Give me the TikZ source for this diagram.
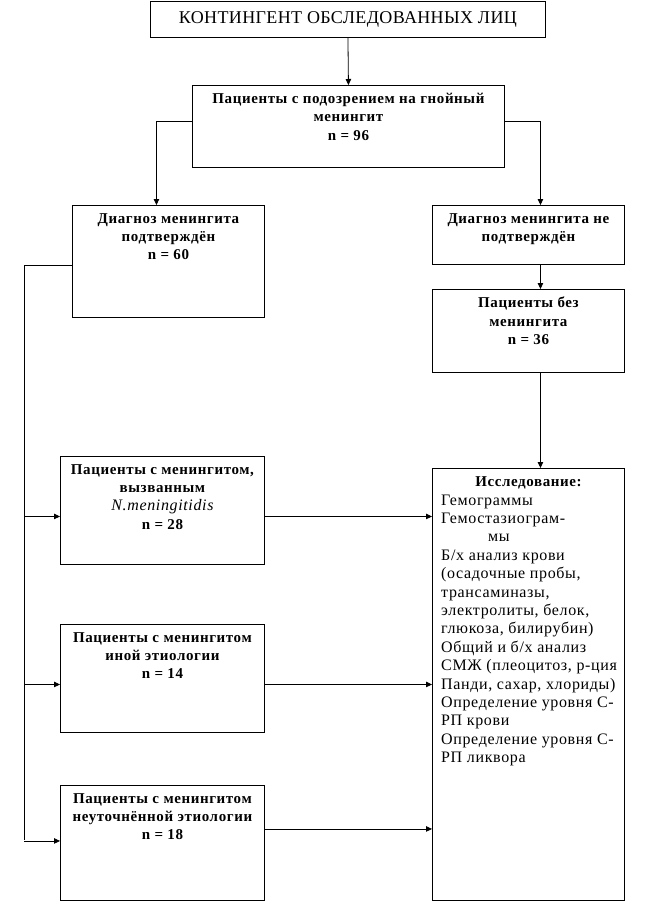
\documentclass[tikz,border=0pt]{standalone}
\usepackage{fontspec}
\setmainfont{Liberation Serif}
\usetikzlibrary{arrows.meta,calc}
\begin{document}
\begin{tikzpicture}[x=1pt,y=-1pt,
  box/.style={draw,line width=0.9pt,rectangle,inner sep=0pt,anchor=north west},
  txt/.style={anchor=north,align=center,inner sep=0pt,font=\fontsize{15}{18.4}\selectfont\bfseries\addfontfeatures{LetterSpace=4}},
  arr/.style={line width=0.8pt,-{Triangle[length=6pt,width=5.5pt]}},
  ln/.style={line width=0.8pt}]
\useasboundingbox (0,0) rectangle (649,907);
% boxes
\node[box,minimum width=395pt,minimum height=36pt] (top) at (150,1) {};
\node[box,minimum width=312pt,minimum height=82pt] (susp) at (192,85) {};
\node[box,minimum width=192pt,minimum height=112pt] (conf) at (72,205) {};
\node[box,minimum width=192pt,minimum height=59pt] (notconf) at (432,205) {};
\node[box,minimum width=192pt,minimum height=83pt] (nomen) at (432,289) {};
\node[box,minimum width=192pt,minimum height=432pt] (study) at (432,468) {};
\node[box,minimum width=204pt,minimum height=108pt] (nm) at (60,456) {};
\node[box,minimum width=204pt,minimum height=108pt] (other) at (60,624) {};
\node[box,minimum width=204pt,minimum height=115pt] (unspec) at (60,785) {};
% texts
\node[anchor=center,inner sep=0pt,font=\fontsize{18}{20}\selectfont\addfontfeatures{LetterSpace=2}] (toptxt) at (top.center) {КОНТИНГЕНТ ОБСЛЕДОВАННЫХ ЛИЦ};
\node[txt] (susptxt) at ([yshift=-8pt]susp.north) {Пациенты с подозрением на гнойный\\менингит\\n = 96};
\node[txt] (conftxt) at ([yshift=-8pt]conf.north) {Диагноз менингита\\подтверждён\\n = 60};
\node[txt] (notconftxt) at ([yshift=-8pt]notconf.north) {Диагноз менингита не\\подтверждён};
\node[txt] (nomentxt) at ([yshift=-8pt]nomen.north) {Пациенты без\\менингита\\n = 36};
\node[txt] (nmtxt) at ([yshift=-8pt]nm.north) {Пациенты с менингитом,\\вызванным\\{\fontsize{16}{18.4}\selectfont\mdseries\itshape N.meningitidis}\\n = 28};
\node[txt] (othertxt) at ([yshift=-8pt]other.north) {Пациенты с менингитом\\иной этиологии\\n = 14};
\node[txt] (unspectxt) at ([yshift=-8pt]unspec.north) {Пациенты с менингитом\\неуточнённой этиологии\\n = 18};
\node[txt] (studyhead) at ([yshift=-8pt]study.north) {Исследование:};
\node[anchor=north west,align=left,inner sep=0pt,font=\fontsize{16}{18.4}\selectfont\addfontfeatures{LetterSpace=4}] (studytxt) at ([yshift=-18.4pt]studyhead.north -| 441,0) {Гемограммы\\Гемостазиограм-\\\hspace*{47pt}мы\\Б/х анализ крови\\(осадочные пробы,\\трансаминазы,\\электролиты, белок,\\глюкоза, билирубин)\\Общий и б/х анализ\\СМЖ (плеоцитоз, р-ция\\Панди, сахар, хлориды)\\Определение уровня С-\\РП крови\\Определение уровня С-\\РП ликвора};
% connectors
\draw[arr] (top.south) -- (susp.north);
\draw[arr] ([yshift=5pt]susp.west) -| ([xshift=-12pt]conf.north);
\draw[arr] ([yshift=5pt]susp.east) -| ([xshift=12pt]notconf.north);
\draw[arr] ([xshift=12pt]notconf.south) -- ([xshift=12pt]nomen.north);
\draw[arr] ([xshift=12pt]nomen.south) -- ([xshift=12pt]study.north);
\coordinate (trunk) at (24,840);
\draw[ln] ([yshift=-4pt]conf.west) -| (trunk);
\draw[arr] ([yshift=-6pt]nm.west -| trunk) -- ([yshift=-6pt]nm.west);
\draw[arr] ([yshift=-6pt]other.west -| trunk) -- ([yshift=-6pt]other.west);
\draw[arr] ([yshift=2pt]unspec.west -| trunk) -- ([yshift=2pt]unspec.west);
\draw[arr] ([yshift=-6pt]nm.east) -- ([yshift=-6pt]nm.east -| study.west);
\draw[arr] ([yshift=-6pt]other.east) -- ([yshift=-6pt]other.east -| study.west);
\draw[arr] ([yshift=14pt]unspec.east) -- ([yshift=14pt]unspec.east -| study.west);
\end{tikzpicture}
\end{document}
